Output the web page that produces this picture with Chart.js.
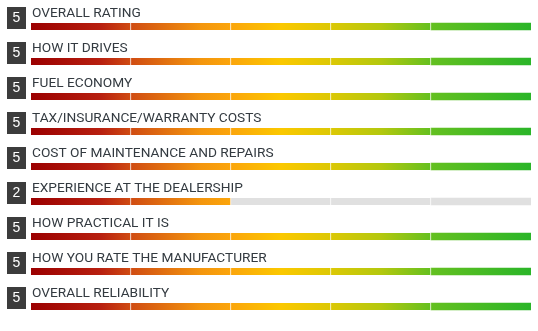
<!DOCTYPE html>
<html>
<head>
<meta charset="utf-8">
<script src="https://cdn.jsdelivr.net/npm/chart.js@4/dist/chart.umd.min.js"></script>
<style>
  body { margin: 0; background: #fff; }
  #wrap { width: 538px; height: 331px; }
</style>
</head>
<body>
<div id="wrap"><canvas id="ratingChart" width="538" height="331"></canvas></div>
<script>
// Rating rows, top to bottom
const categories = [
    'OVERALL RATING',
    'HOW IT DRIVES',
    'FUEL ECONOMY',
    'TAX/INSURANCE/WARRANTY COSTS',
    'COST OF MAINTENANCE AND REPAIRS',
    'EXPERIENCE AT THE DEALERSHIP',
    'HOW PRACTICAL IT IS',
    'HOW YOU RATE THE MANUFACTURER',
    'OVERALL RELIABILITY'
];
const scores = [5, 5, 5, 5, 5, 2, 5, 5, 5];
const maxScore = 5;

const emptyColor = '#e0e0e0';
let gradientCache = null;

// red -> orange -> yellow -> green across the whole chart area
function getGradient(chart) {
    const area = chart.chartArea;
    if (!area) return null;
    if (gradientCache && gradientCache.left === area.left && gradientCache.right === area.right) {
        return gradientCache.g;
    }
    const g = chart.ctx.createLinearGradient(area.left, 0, area.right, 0);
    g.addColorStop(0, '#9b0000');
    g.addColorStop(0.14, '#b82010');
    g.addColorStop(0.2, '#d04c12');
    g.addColorStop(0.34, '#f4960e');
    g.addColorStop(0.4, '#fba50b');
    g.addColorStop(0.5, '#fbc800');
    g.addColorStop(0.6, '#dcc805');
    g.addColorStop(0.7, '#b4c80e');
    g.addColorStop(0.8, '#64c020');
    g.addColorStop(1, '#2ab528');
    gradientCache = { left: area.left, right: area.right, g };
    return g;
}

// one dataset per segment of the bar
const segments = [];
for (let k = 0; k < maxScore; k++) {
    segments.push({
        data: scores.map(() => 1),
        backgroundColor: ctx => scores[ctx.dataIndex] > k ? getGradient(ctx.chart) : emptyColor,
        borderColor: '#ffffff',
        borderWidth: { left: 0, top: 0, bottom: 0, right: k < maxScore - 1 ? 1 : 0 },
        borderSkipped: false,
        barThickness: 7
    });
}

// score boxes and row titles
const rowLabels = {
    id: 'rowLabels',
    afterDatasetsDraw(chart) {
        const ctx = chart.ctx;
        const yScale = chart.scales.y;
        ctx.save();
        categories.forEach((name, i) => {
            const y = yScale.getPixelForValue(i);
            ctx.fillStyle = '#3c3c3c';
            ctx.fillRect(7, y - 19.5, 19, 22);
            ctx.fillStyle = '#ffffff';
            ctx.font = '14px "Liberation Sans", Arial, sans-serif';
            ctx.textAlign = 'center';
            ctx.textBaseline = 'middle';
            ctx.fillText(String(scores[i]), 16.5, y - 8);
            ctx.fillStyle = '#333a40';
            ctx.font = '13.7px Roboto, "Liberation Sans", sans-serif';
            ctx.textAlign = 'left';
            ctx.textBaseline = 'alphabetic';
            ctx.fillText(name, 32, y - 9.5);
        });
        ctx.restore();
    }
};

new Chart(document.getElementById('ratingChart').getContext('2d'), {
    type: 'bar',
    data: {
        labels: categories,
        datasets: segments
    },
    options: {
        indexAxis: 'y',
        responsive: false,
        animation: false,
        layout: {
            padding: { left: 31, right: 7, top: 9, bottom: 7 }
        },
        scales: {
            x: { stacked: true, min: 0, max: maxScore, display: false },
            y: { stacked: true, display: false }
        },
        plugins: {
            legend: { display: false },
            tooltip: { enabled: false }
        }
    },
    plugins: [rowLabels]
});
</script>
</body>
</html>
